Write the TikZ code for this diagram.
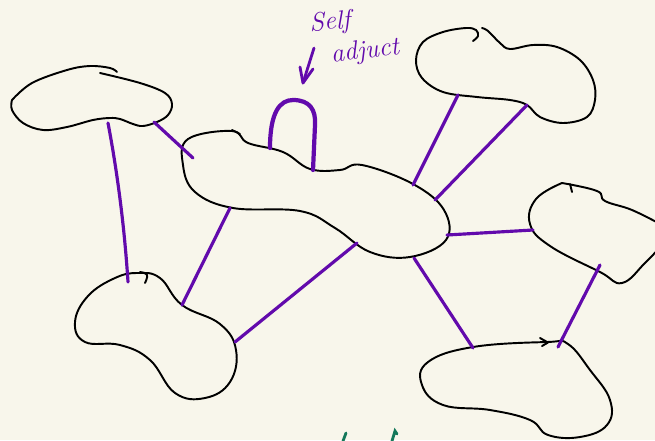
\documentclass[tikz,border=0pt]{standalone}
\usetikzlibrary{calc}
\definecolor{bg}{RGB}{248,246,235}
\definecolor{pur}{RGB}{98,10,172}
\definecolor{grn}{RGB}{20,120,90}
\tikzset{
  blob/.style={draw=black, line width=1.1pt, line join=round, line cap=round},
  link/.style={draw=pur, line width=1.8pt, line cap=round},
  loopl/.style={draw=pur, line width=2.4pt, line cap=round},
  note/.style={text=pur, font=\fontsize{15}{17}\selectfont\itshape, inner sep=0pt},
}
\begin{document}
\begin{tikzpicture}[x=0.02cm, y=-0.02cm]
\useasboundingbox (0,0) rectangle (655,440);
\fill[bg] (0,0) rectangle (655,440);
\clip (0,0) rectangle (655,440);

% ---- blob A (top left)
\draw[blob] plot[smooth, tension=0.6] coordinates {(12,100) (32,83) (67,70) (90,66) (110,68) (117,72)};
\draw[blob] plot[smooth, tension=0.6] coordinates {(100,73) (140,83) (165,93) (172,104) (168,115) (157,122) (143,126) (133,124) (120,119) (110,118) (93,120) (67,127) (43,130) (23,123) (12,110) (12,100)};

% ---- blob B (centre)
\draw[blob] plot[smooth cycle, tension=0.65] coordinates {(188,139) (232,131) (248,143) (283,152) (310,169) (340,170) (362,165) (413,184) (444,210) (446,240) (410,257) (370,252) (335,228) (300,211) (233,208) (195,192) (183,165)};
\draw[blob] (232,130) -- (240,134);

% ---- blob C (top right)
\draw[blob] plot[smooth, tension=0.6] coordinates {(473,41) (478,36) (476,30) (466,28) (443,32) (423,42) (416,60) (422,78) (443,92) (477,97) (510,100) (527,105) (540,117) (563,123) (587,117) (595,100) (593,80) (580,60) (557,47) (533,45) (510,49) (500,43) (488,31) (482,28)};

% ---- blob E (right)
\draw[blob] plot[smooth, tension=0.7] coordinates {(562,183) (536,199) (530,224) (550,246) (600,272) (622,283) (645,263) (662,245)};
\draw[blob] plot[smooth, tension=0.7] coordinates {(662,225) (632,210) (605,201) (597,191) (562,183)};
\draw[blob] (570,184) -- (572,192);

% ---- blob F (bottom right)
\draw[blob] plot[smooth cycle, tension=0.7] coordinates {(428,362) (473,347) (547,342) (568,344) (590,370) (610,400) (607,425) (580,437) (548,435) (530,420) (490,410) (443,405) (422,385)};
\draw[blob] (540,338) -- (548,342.5) -- (542,346);

% ---- blob D (lower left)
\draw[blob] plot[smooth cycle, tension=0.7] coordinates {(138,273) (160,278) (182,305) (220,324) (236,350) (230,382) (205,398) (175,393) (150,360) (120,345) (85,342) (75,322) (88,296) (115,278)};
\draw[blob] plot[smooth, tension=0.7] coordinates {(140,272) (147,275) (145,283)};

% ---- connector end points
\coordinate (a1) at (108,123);  \coordinate (d1) at (128,282);
\coordinate (a2) at (154,122);  \coordinate (b1) at (193,158);
\coordinate (b2) at (230,208);  \coordinate (d2) at (182,305);
\coordinate (b3) at (357,243);  \coordinate (d3) at (235,342);
\coordinate (b4) at (413,185);  \coordinate (c1) at (458,95);
\coordinate (b5) at (435,200);  \coordinate (c2) at (527,105);
\coordinate (b6) at (447,235);  \coordinate (e1) at (533,230);
\coordinate (b7) at (414,258);  \coordinate (f1) at (473,348);
\coordinate (e2) at (600,265);  \coordinate (f2) at (558,347);
\coordinate (s1) at (270,148);  \coordinate (s2) at (313,170);

% ---- connectors
\draw[link] (a1) .. controls (116,165) and (124,220) .. (d1);
\draw[link] (a2) -- (b1);
\draw[link] (b2) -- (d2);
\draw[link] (b3) -- (d3);
\draw[link] (b4) -- (c1);
\draw[link] (b5) -- (c2);
\draw[link] (b6) -- (e1);
\draw[link] (b7) -- (f1);
\draw[link] (e2) -- (f2);
\draw[loopl] (s1) .. controls (270,112) and (280,100) .. (293,100)
                  .. controls (310,100) and (316,110) .. (315,125) -- (s2);

% ---- annotation
\node[note, rotate=4] (self) at (330,23) {Self};
\node[note, rotate=7] (adj) at (365,52) {adjuct};
\coordinate (ar1) at (314,48);
\coordinate (ar2) at (303,83);
\draw[pur, line width=1.6pt, line cap=round, line join=round] (ar1) -- (ar2);
\draw[pur, line width=1.6pt, line cap=round, line join=round] (300,67) -- (ar2) -- (313,69);

% ---- green marks at bottom edge
\draw[grn, line width=1.6pt, line cap=round] (343,441) -- (346,433);
\draw[grn, line width=1.6pt, line cap=round] (392,441) -- (395,431) -- (397,434);
\end{tikzpicture}
\end{document}
